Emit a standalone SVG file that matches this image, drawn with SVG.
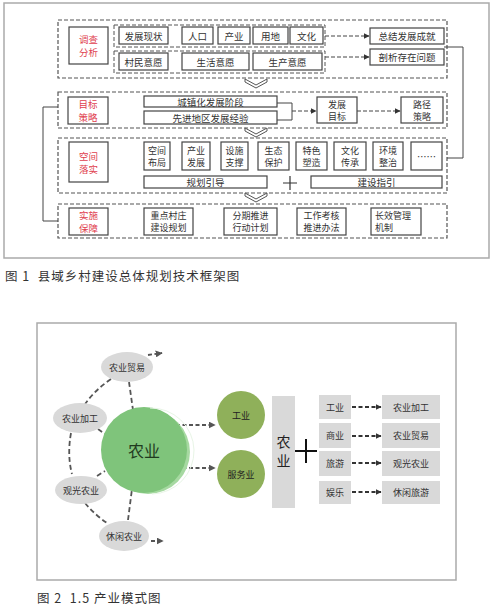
<svg xmlns="http://www.w3.org/2000/svg" width="494" height="610" viewBox="0 0 494 610">
<style>
text{font-family:"Noto Sans CJK SC","Noto Sans",sans-serif;fill:#333;text-anchor:middle;dominant-baseline:central}
.frame{fill:#fff;stroke:#aaa;stroke-width:1.5}
.sec{fill:none;stroke:#555;stroke-width:1.2;stroke-dasharray:4,2}
.row{fill:none;stroke:#555;stroke-width:1;stroke-dasharray:4,2}
.box{fill:#fff;stroke:#444;stroke-width:1.2}
.lab{fill:#fff;stroke:#444;stroke-width:1.2}
.red{fill:#e0404e;font-size:9.5px}
.t{font-size:9.5px}
.t2{font-size:9px}
.ln{fill:none;stroke:#444;stroke-width:1}
.da{fill:none;stroke:#444;stroke-width:1;stroke-dasharray:4,2}
.chev{fill:#fff;stroke:#555;stroke-width:1}
.cap{font-size:12.5px;text-anchor:start;fill:#333;letter-spacing:1px}
.ell{fill:#d9d9d9}
.et{font-size:9px;fill:#333}
.gd{fill:none;stroke:#555;stroke-width:1.8;stroke-dasharray:5,3}
.ad{fill:none;stroke:#555;stroke-width:1.8;stroke-dasharray:4,2.5}
.gb{fill:#d9d9d9}
.olive{fill:#8fb05a}
</style>
<defs>
<marker id="ah" viewBox="0 0 10 10" refX="9" refY="5" markerWidth="6" markerHeight="6" orient="auto" markerUnits="userSpaceOnUse"><path d="M0,0 L10,5 L0,10 Z" fill="#333"/></marker>
<marker id="ah2" viewBox="0 0 10 10" refX="9" refY="5" markerWidth="7" markerHeight="7" orient="auto" markerUnits="userSpaceOnUse"><path d="M0,0 L10,5 L0,10 Z" fill="#555"/></marker>
</defs>

<!-- Figure 1 -->
<rect class="frame" x="4" y="3" width="485" height="255"/>

<g id="sec1">
<rect class="sec" x="58" y="20" width="389" height="58"/>
<rect class="lab" x="69" y="27" width="39" height="37"/>
<text class="red" x="88.5" y="39">调查</text><text class="red" x="88.5" y="52">分析</text>
<rect class="row" x="114" y="25" width="211" height="22"/>
<rect class="row" x="114" y="51" width="211" height="22"/>
</g>
<g id="n-fzxz"><rect class="box" x="119" y="27" width="49" height="17"/><text class="t" x="143.5" y="35.5">发展现状</text></g>
<g id="n-rk"><rect class="box" x="182" y="27" width="31" height="17"/><text class="t" x="197.5" y="35.5">人口</text></g>
<g id="n-cy"><rect class="box" x="218" y="27" width="32" height="17"/><text class="t" x="234" y="35.5">产业</text></g>
<g id="n-yd"><rect class="box" x="253" y="27" width="35" height="17"/><text class="t" x="270.5" y="35.5">用地</text></g>
<g id="n-wh"><rect class="box" x="290" y="27" width="33" height="17"/><text class="t" x="306.5" y="35.5">文化</text></g>
<g id="n-cmyy"><rect class="box" x="119" y="53" width="49" height="17"/><text class="t" x="143.5" y="61.5">村民意愿</text></g>
<g id="n-shyy"><rect class="box" x="182" y="53" width="67" height="17"/><text class="t" x="215.5" y="61.5">生活意愿</text></g>
<g id="n-scyy"><rect class="box" x="253" y="53" width="69" height="17"/><text class="t" x="287.5" y="61.5">生产意愿</text></g>
<g id="n-zj"><rect class="box" x="370" y="28" width="74" height="16"/><text class="t" x="407" y="36">总结发展成就</text></g>
<g id="n-px"><rect class="box" x="370" y="49" width="74" height="16"/><text class="t" x="407" y="57">剖析存在问题</text></g>

<g id="sec2">
<rect class="sec" x="58" y="92" width="389" height="36"/>
<rect class="lab" x="68" y="97" width="40" height="27"/>
<text class="red" x="88" y="104">目标</text><text class="red" x="88" y="117">策略</text>
</g>
<g id="n-czh"><rect class="box" x="144" y="96" width="133" height="11"/><text class="t" x="210.5" y="101.5">城镇化发展阶段</text></g>
<g id="n-xj"><rect class="box" x="144" y="111" width="133" height="13"/><text class="t" x="210.5" y="117.5">先进地区发展经验</text></g>
<g id="n-fzmb"><rect class="box" x="317" y="97" width="40" height="26"/><text class="t2" x="337" y="104">发展</text><text class="t2" x="337" y="116">目标</text></g>
<g id="n-ljcl"><rect class="box" x="401" y="97" width="42" height="26"/><text class="t2" x="422" y="104">路径</text><text class="t2" x="422" y="116">策略</text></g>

<g id="sec3">
<rect class="sec" x="58" y="138" width="389" height="55"/>
<rect class="lab" x="69" y="142" width="39" height="40"/>
<text class="red" x="88.5" y="155.5">空间</text><text class="red" x="88.5" y="168.5">落实</text>
</g>
<g id="n-kjbj"><rect class="box" x="144" y="142" width="26" height="28"/><text class="t2" x="157" y="150">空间</text><text class="t2" x="157" y="162">布局</text></g>
<g id="n-cyfz"><rect class="box" x="182" y="142" width="28" height="28"/><text class="t2" x="196" y="150">产业</text><text class="t2" x="196" y="162">发展</text></g>
<g id="n-sszc"><rect class="box" x="221" y="142" width="27" height="28"/><text class="t2" x="234.5" y="150">设施</text><text class="t2" x="234.5" y="162">支撑</text></g>
<g id="n-stbh"><rect class="box" x="258" y="142" width="31" height="28"/><text class="t2" x="273.5" y="150">生态</text><text class="t2" x="273.5" y="162">保护</text></g>
<g id="n-tssz"><rect class="box" x="296" y="142" width="31" height="28"/><text class="t2" x="311.5" y="150">特色</text><text class="t2" x="311.5" y="162">塑造</text></g>
<g id="n-whcc"><rect class="box" x="334" y="142" width="32" height="28"/><text class="t2" x="350" y="150">文化</text><text class="t2" x="350" y="162">传承</text></g>
<g id="n-hjzz"><rect class="box" x="373" y="142" width="30" height="28"/><text class="t2" x="388" y="150">环境</text><text class="t2" x="388" y="162">整治</text></g>
<g id="n-dots"><rect class="box" x="411" y="142" width="31" height="28"/><text class="t" x="426.5" y="156">……</text></g>
<g id="n-ghyd"><rect class="box" x="144" y="176" width="123" height="12"/><text class="t" x="205.5" y="182">规划引导</text></g>
<g id="n-jszy"><rect class="box" x="311" y="176" width="131" height="12"/><text class="t" x="376.5" y="182">建设指引</text></g>
<g id="plus1"><path d="M283,183 H297 M290,176 V190" stroke="#333" stroke-width="1.2" fill="none"/></g>

<g id="sec4">
<rect class="sec" x="58" y="204" width="389" height="34"/>
<rect class="lab" x="69" y="208" width="39" height="27"/>
<text class="red" x="88.5" y="215">实施</text><text class="red" x="88.5" y="228">保障</text>
</g>
<g id="n-zdcz"><rect class="box" x="144" y="208" width="49" height="27"/><text class="t2" x="168.5" y="215.5">重点村庄</text><text class="t2" x="168.5" y="227.5">建设规划</text></g>
<g id="n-fqtj"><rect class="box" x="224" y="208" width="53" height="27"/><text class="t2" x="250.5" y="215.5">分期推进</text><text class="t2" x="250.5" y="227.5">行动计划</text></g>
<g id="n-gzkh"><rect class="box" x="297" y="208" width="49" height="27"/><text class="t2" x="321.5" y="215.5">工作考核</text><text class="t2" x="321.5" y="227.5">推进办法</text></g>
<g id="n-cxgl"><rect class="box" x="371" y="208" width="50" height="27"/><text class="t2" x="375" y="215.5" style="text-anchor:start">长效管理</text><text class="t2" x="375" y="227.5" style="text-anchor:start">机制</text></g>

<g id="connectors1">
<line class="da" x1="325" y1="36" x2="369" y2="36" marker-end="url(#ah)"/>
<line class="da" x1="325" y1="57" x2="369" y2="57" marker-end="url(#ah)"/>
<polyline class="ln" points="444,47 463,47 463,158 447,158"/>
<polyline class="ln" points="58,107 43,107 43,221 58,221"/>
<polyline class="ln" points="277,103 292,103 292,120 277,120"/>
<line class="da" x1="292" y1="111" x2="316" y2="111" marker-end="url(#ah)"/>
<line class="da" x1="357" y1="111" x2="400" y2="111" marker-end="url(#ah)"/>
<path class="chev" d="M245,79 L256,85 L267,79 L267,82 L256,88 L245,82 Z"/>
<path class="chev" d="M245,128 L256,134 L267,128 L267,131 L256,137 L245,131 Z"/>
<path class="chev" d="M245,193 L256,199 L267,193 L267,196 L256,202 L245,196 Z"/>
</g>

<text class="cap" x="5" y="275" xml:space="preserve">图 1  县域乡村建设总体规划技术框架图</text>

<!-- Figure 2 -->
<rect class="frame" x="37" y="323" width="419" height="257"/>

<g id="connectors2">
<path class="gd" d="M111,379 Q95,390 85,404"/>
<line class="gd" x1="129" y1="382" x2="133" y2="410"/>
<line class="gd" x1="98" y1="429" x2="105" y2="434"/>
<path class="gd" d="M71,433 Q67,455 72,474"/>
<line class="gd" x1="97" y1="476" x2="105" y2="471"/>
<path class="gd" d="M85,503 Q95,515 107,523"/>
<line class="gd" x1="128" y1="520" x2="132" y2="489"/>
<line class="ad" x1="148" y1="355" x2="162" y2="353" marker-end="url(#ah2)"/>
<line class="ad" x1="151" y1="541" x2="163" y2="541" marker-end="url(#ah2)"/>
<line class="ad" x1="163" y1="425" x2="215" y2="425" marker-end="url(#ah2)"/>
<line class="ad" x1="163" y1="468" x2="215" y2="468" marker-end="url(#ah2)"/>
<line class="ad" x1="352" y1="407" x2="381" y2="407" marker-end="url(#ah)" style="stroke:#333"/>
<line class="ad" x1="352" y1="436" x2="381" y2="436" marker-end="url(#ah)" style="stroke:#333"/>
<line class="ad" x1="352" y1="463" x2="381" y2="463" marker-end="url(#ah)" style="stroke:#333"/>
<line class="ad" x1="352" y1="492" x2="381" y2="492" marker-end="url(#ah)" style="stroke:#333"/>
</g>

<g id="n-nyy">
<circle cx="148" cy="452" r="42" fill="#a6d9a1"/>
<circle cx="144" cy="450" r="43" fill="#7fc47b"/>
<path d="M150,408 A43,43 0 0 1 152,494" fill="none" stroke="#e8f5e6" stroke-width="1"/>
<text x="144" y="450" style="font-size:16px;fill:#1f3a1f">农业</text>
</g>
<g id="n-nymy"><ellipse class="ell" cx="127" cy="367" rx="26" ry="15"/><text class="et" x="127" y="367">农业贸易</text></g>
<g id="n-nyjg"><ellipse class="ell" cx="80" cy="418" rx="27" ry="15"/><text class="et" x="80" y="418">农业加工</text></g>
<g id="n-ggny"><ellipse class="ell" cx="81" cy="490" rx="26" ry="14"/><text class="et" x="81" y="490">观光农业</text></g>
<g id="n-xxny"><ellipse class="ell" cx="124" cy="536" rx="25" ry="15"/><text class="et" x="124" y="536">休闲农业</text></g>
<g id="n-gy"><circle class="olive" cx="241" cy="415" r="24"/><text class="et" x="241" y="415" style="fill:#222">工业</text></g>
<g id="n-fwy"><circle class="olive" cx="241" cy="474" r="24"/><text class="et" x="241" y="474" style="fill:#222">服务业</text></g>
<g id="n-nybar"><rect class="gb" x="272" y="396" width="23" height="112"/><text x="283.5" y="441" style="font-size:14px;fill:#222">农</text><text x="283.5" y="460" style="font-size:14px;fill:#222">业</text></g>
<g id="plus2"><path d="M295,451 H317 M306,439 V463" stroke="#111" stroke-width="2" fill="none"/></g>
<g id="n-l1"><rect class="gb" x="319" y="395" width="32" height="24"/><text class="et" x="335" y="407">工业</text></g>
<g id="n-l2"><rect class="gb" x="319" y="423" width="32" height="25"/><text class="et" x="335" y="435.5">商业</text></g>
<g id="n-l3"><rect class="gb" x="319" y="451" width="32" height="25"/><text class="et" x="335" y="463.5">旅游</text></g>
<g id="n-l4"><rect class="gb" x="319" y="481" width="32" height="23"/><text class="et" x="335" y="492.5">娱乐</text></g>
<g id="n-r1"><rect class="gb" x="382" y="395" width="58" height="24"/><text class="et" x="411" y="407">农业加工</text></g>
<g id="n-r2"><rect class="gb" x="382" y="423" width="58" height="25"/><text class="et" x="411" y="435.5">农业贸易</text></g>
<g id="n-r3"><rect class="gb" x="382" y="451" width="58" height="25"/><text class="et" x="411" y="463.5">观光农业</text></g>
<g id="n-r4"><rect class="gb" x="382" y="481" width="58" height="23"/><text class="et" x="411" y="492.5">休闲旅游</text></g>

<text class="cap" x="37" y="597" xml:space="preserve">图 2  1.5 产业模式图</text>
</svg>
